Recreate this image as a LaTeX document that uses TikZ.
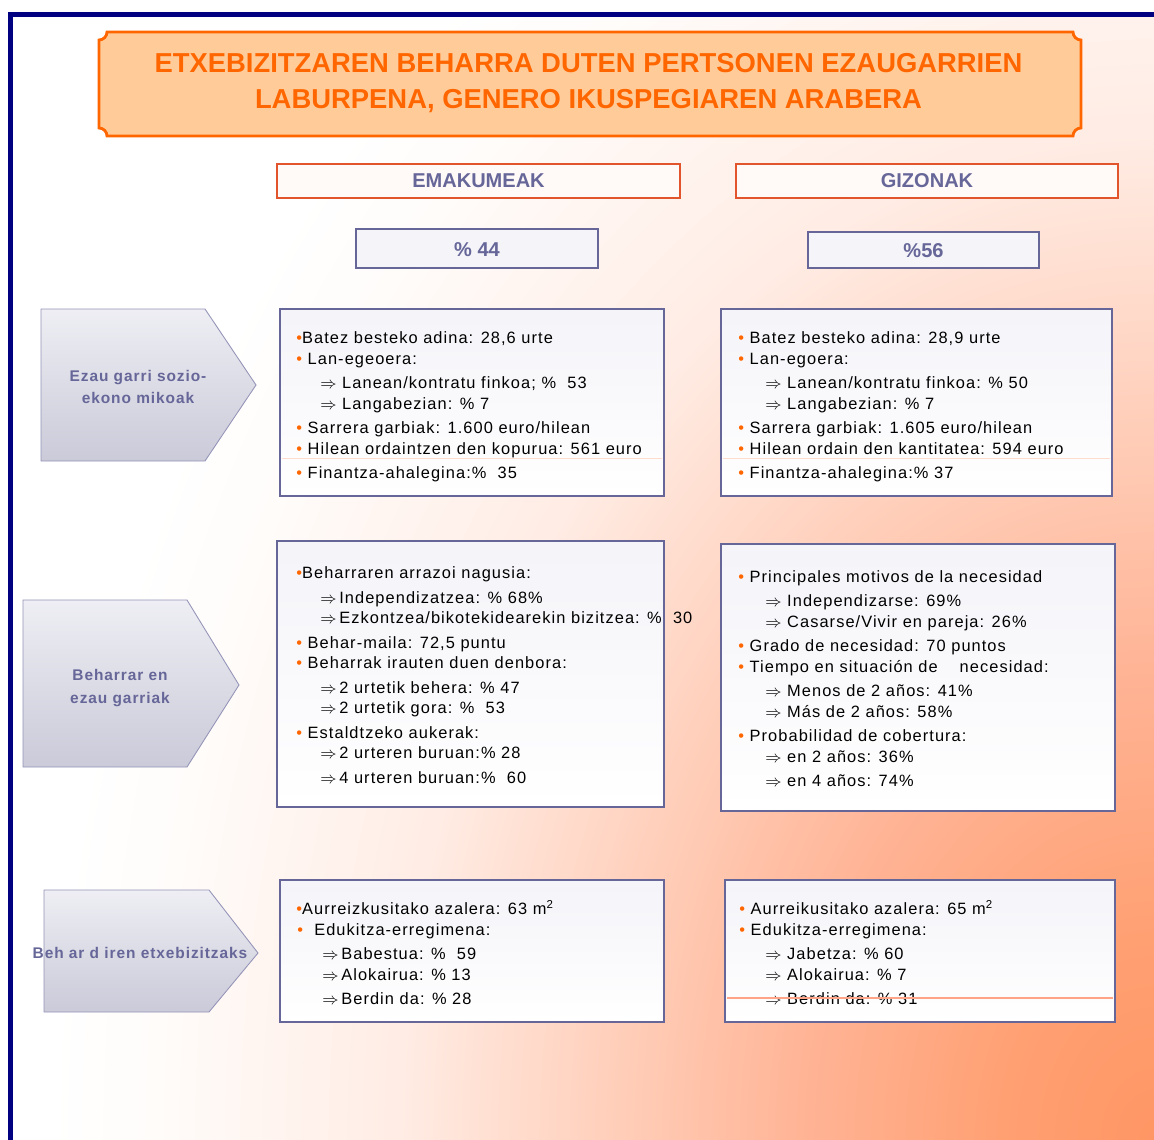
\documentclass[tikz,border=0pt]{standalone}
\usepackage{fontspec}
\setmainfont{Liberation Sans}
\usepackage{xcolor}
\usepackage{tikz}
\usetikzlibrary{calc,positioning}
\definecolor{framenavy}{HTML}{000080}
\definecolor{titleorange}{HTML}{FF6600}
\definecolor{titlefill}{HTML}{FFCC99}
\definecolor{headred}{HTML}{E2542C}
\definecolor{headfill}{HTML}{FFF9F7}
\definecolor{slate}{HTML}{666699}
\definecolor{boxtop}{HTML}{F4F4F9}
\definecolor{boxmid}{HTML}{C9C9DB}
\definecolor{arrowtop}{HTML}{EEEEF4}
\definecolor{arrowbot}{HTML}{CACAD9}
\definecolor{bulletorange}{HTML}{FF6600}
\definecolor{streak}{HTML}{FFA585}
\definecolor{faintstreak}{HTML}{FFDCCD}
\definecolor{glowA}{RGB}{255,150,100}
\definecolor{glowB}{RGB}{255,160,115}
\definecolor{glowC}{RGB}{255,180,150}
\definecolor{glowD}{RGB}{255,208,188}
\definecolor{glowE}{RGB}{255,236,228}
\definecolor{glowF}{RGB}{255,252,250}
\pgfdeclareradialshading{peachglow}{\pgfpoint{0bp}{0bp}}{color(0bp)=(glowA); color(3.2bp)=(glowB); color(7.4bp)=(glowC); color(11.5bp)=(glowD); color(15.7bp)=(glowE); color(20.8bp)=(glowF); color(23bp)=(white); color(50bp)=(white)}
\newfontfamily\bodyfam[LetterSpace=6.5]{Liberation Sans}
\newfontfamily\sidefam[LetterSpace=6]{Liberation Sans Bold}
\newcommand{\bodyfont}{\bodyfam\fontsize{9.33pt}{11pt}\selectfont}
\newcommand{\titlefont}{\bfseries\fontsize{15.6pt}{21pt}\selectfont}
\newcommand{\headfont}{\bfseries\fontsize{11.4pt}{13pt}\selectfont}
\newcommand{\sidefont}{\sidefam\fontsize{8.8pt}{13pt}\selectfont}
\newcommand{\bul}{\textcolor{bulletorange}{\textbullet}}
\newcommand{\imp}{$\Rightarrow$}
\tikzset{
  plaque/.style={draw=titleorange,line width=1.6pt,fill=titlefill},
  titletext/.style={text=titleorange,font=\titlefont,align=center},
  headbox/.style={draw=headred,line width=0.7pt,fill=headfill},
  headtext/.style={text=slate,font=\headfont},
  pctbox/.style={draw=slate,line width=1.6pt,top color=boxtop,middle color=boxmid,bottom color=boxtop},
  infobox/.style={draw=slate,line width=1.6pt,top color=boxtop,middle color=boxmid,bottom color=white},
  sidearrow/.style={draw=slate!70,line width=0.5pt,top color=arrowtop,bottom color=arrowbot},
  sidetext/.style={text=slate,font=\sidefont,align=center},
  itemline/.style={anchor=west,inner sep=0pt,font=\bodyfont,text height=1.5ex,text depth=0.25ex}
}
\begin{document}
\begin{tikzpicture}[x=0.02cm,y=-0.02cm]
  \useasboundingbox (0,0) rectangle (1154,1140);
  % background glow and frame
  \begin{scope}
    \clip (13,17) rectangle (1154,1140);
    \shade[shading=peachglow] (-46,-460) rectangle (2354,2740);
  \end{scope}
  \fill[framenavy] (8,12) rectangle (1154,17);
  \fill[framenavy] (8,12) rectangle (13,1140);
  % title plaque
  \draw[plaque] (107,32) -- (1073,32) .. controls (1073,36.4) and (1076.6,40) .. (1081,40)
    -- (1081,128) .. controls (1076.6,128) and (1073,131.6) .. (1073,136)
    -- (107,136) .. controls (107,131.6) and (103.4,128) .. (99,128)
    -- (99,40) .. controls (103.4,40) and (107,36.4) .. (107,32) -- cycle;
  \node[titletext] (title) at (588.5,83) {ETXEBIZITZAREN BEHARRA DUTEN PERTSONEN EZAUGARRIEN\\LABURPENA, GENERO IKUSPEGIAREN ARABERA};
  % column heads
  \draw[headbox] (277,164) rectangle (680,198);
  \node[headtext] (emakumeak) at (478.5,181) {EMAKUMEAK};
  \draw[headbox] (736,164) rectangle (1118,198);
  \node[headtext] (gizonak) at (927,181) {GIZONAK};
  \draw[pctbox] (356,229) rectangle (598,268);
  \node[headtext] (pctL) at (477,250) {\% 44};
  \draw[pctbox] (808,232) rectangle (1039,268);
  \node[headtext] (pctR) at (923.5,251) {\%56};
  % row labels
  \draw[sidearrow] (41,309) -- (205,309) -- (256,385) -- (205,461) -- (41,461) -- cycle;
  \node[sidetext] (ezlabel) at (138,387) {Ezau garri sozio-\\ekono mikoak};
  \draw[sidearrow] (23,600) -- (187,600) -- (239,685) -- (187,767) -- (23,767) -- cycle;
  \node[sidetext] (behlabel) at (120,688) {Beharrar en\\ezau garriak};
  \draw[sidearrow] (44,890) -- (209,890) -- (258,953) -- (209,1012) -- (44,1012) -- cycle;
  \node[sidetext] (etxlabel) at (140,953) {Beh ar d iren etxebizitzaks};
  % boxes
  \draw[infobox] (280,309) rectangle (664,496);
  \draw[infobox] (721,309) rectangle (1112,496);
  \draw[infobox] (277,541) rectangle (664,807);
  \draw[infobox] (721,544) rectangle (1115,811);
  \draw[infobox] (280,880) rectangle (664,1022);
  \draw[infobox] (725,880) rectangle (1115,1022);
  \draw[faintstreak,line width=0.5pt] (282,458) -- (662,458);
  \draw[faintstreak,line width=0.5pt] (723,458) -- (1110,458);
  % socio-economic
  \foreach \xx/\yy/\txt [count=\i] in {
    296/338/{\bul Batez besteko adina: 28,6 urte},
    296/359/{\bul\ Lan-egeoera:},
    320/383/{\imp\ Lanean/kontratu finkoa; \% \ 53},
    320/404/{\imp\ Langabezian: \% 7},
    296/428/{\bul\ Sarrera garbiak: 1.600 euro/hilean},
    296/449/{\bul\ Hilean ordaintzen den kopurua: 561 euro},
    296/473/{\bul\ Finantza-ahalegina:\% \ 35}}
    \node[itemline] (ezL-\i) at (\xx,\yy) {\txt};
  \foreach \xx/\yy/\txt [count=\i] in {
    738/338/{\bul\ Batez besteko adina: 28,9 urte},
    738/359/{\bul\ Lan-egoera:},
    765/383/{\imp\ Lanean/kontratu finkoa: \% 50},
    765/404/{\imp\ Langabezian: \% 7},
    738/428/{\bul\ Sarrera garbiak: 1.605 euro/hilean},
    738/449/{\bul\ Hilean ordain den kantitatea: 594 euro},
    738/473/{\bul\ Finantza-ahalegina:\% 37}}
    \node[itemline] (ezR-\i) at (\xx,\yy) {\txt};
  % need
  \foreach \xx/\yy/\txt [count=\i] in {
    296/573/{\bul Beharraren arrazoi nagusia:},
    320/598/{\imp\,Independizatzea: \% 68\%},
    320/618/{\imp\,Ezkontzea/bikotekidearekin bizitzea: \% \ 30},
    296/643/{\bul\ Behar-maila: 72,5 puntu},
    296/663/{\bul\ Beharrak irauten duen denbora:},
    320/688/{\imp\,2 urtetik behera: \% 47},
    320/708/{\imp\,2 urtetik gora: \% \ 53},
    296/733/{\bul\ Estaldtzeko aukerak:},
    320/753/{\imp\,2 urteren buruan:\% 28},
    320/778/{\imp\,4 urteren buruan:\% \ 60}}
    \node[itemline] (behL-\i) at (\xx,\yy) {\txt};
  \foreach \xx/\yy/\txt [count=\i] in {
    738/577/{\bul\ Principales motivos de la necesidad},
    765/601/{\imp\ Independizarse: 69\%},
    765/622/{\imp\ Casarse/Vivir en pareja: 26\%},
    738/646/{\bul\ Grado de necesidad: 70 puntos},
    738/667/{\bul\ Tiempo en situación de \quad necesidad:},
    765/691/{\imp\ Menos de 2 años: 41\%},
    765/712/{\imp\ Más de 2 años: 58\%},
    738/736/{\bul\ Probabilidad de cobertura:},
    765/757/{\imp\ en 2 años: 36\%},
    765/781/{\imp\ en 4 años: 74\%}}
    \node[itemline] (behR-\i) at (\xx,\yy) {\txt};
  % dwellings
  \foreach \xx/\yy/\txt [count=\i] in {
    296/909/{\bul Aurreizkusitako azalera: 63 m\textsuperscript{2}},
    297/930/{\bul\ \ Edukitza-erregimena:},
    322/954/{\imp\,Babestua: \% \ 59},
    322/975/{\imp\,Alokairua: \% 13},
    322/999/{\imp\,Berdin da: \% 28}}
    \node[itemline] (etxL-\i) at (\xx,\yy) {\txt};
  \foreach \xx/\yy/\txt [count=\i] in {
    739/909/{\bul\ Aurreikusitako azalera: 65 m\textsuperscript{2}},
    739/930/{\bul\ Edukitza-erregimena:},
    765/954/{\imp\ Jabetza: \% 60},
    765/975/{\imp\ Alokairua: \% 7},
    765/999/{\imp\ Berdin da: \% 31}}
    \node[itemline] (etxR-\i) at (\xx,\yy) {\txt};
  \draw[streak,line width=0.6pt] (727,998) -- (1113,998);
\end{tikzpicture}
\end{document}
